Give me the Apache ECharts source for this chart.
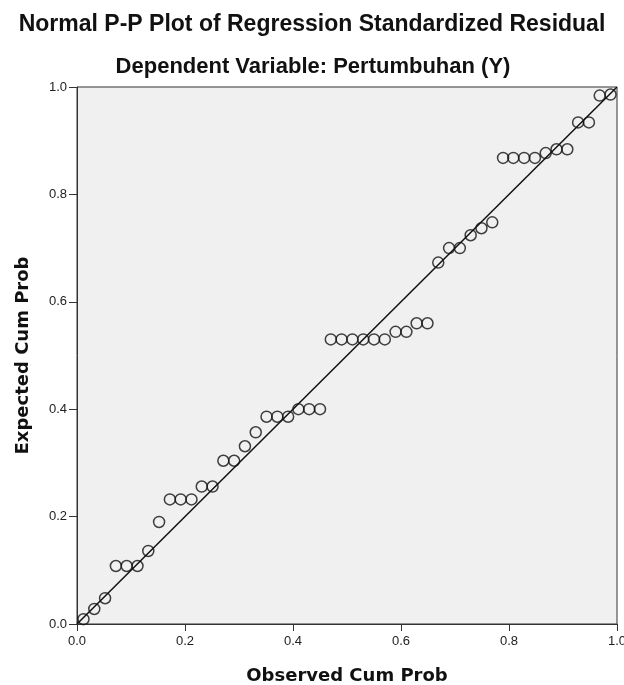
<!DOCTYPE html>
<html>
<head>
<meta charset="utf-8">
<script src="https://cdn.jsdelivr.net/npm/echarts@6/dist/echarts.min.js"></script>
<style>
  html, body { margin: 0; padding: 0; background: #fff; }
  #main { width: 624px; height: 685px; }
</style>
</head>
<body>
<div id="main"></div>
<script>
// observed cum prob (x) and expected cum prob (y)
const observed = [
  0.012, 0.032, 0.052, 0.072, 0.092, 0.112, 0.132, 0.152, 0.172, 0.192,
  0.212, 0.231, 0.251, 0.271, 0.291, 0.311, 0.331, 0.351, 0.371, 0.391,
  0.410, 0.430, 0.450, 0.470, 0.490, 0.510, 0.530, 0.550, 0.570, 0.590,
  0.610, 0.629, 0.649, 0.669, 0.689, 0.709, 0.729, 0.749, 0.769, 0.789,
  0.808, 0.828, 0.848, 0.868, 0.888, 0.908, 0.928, 0.948, 0.968, 0.988
];
const expected = [
  0.009, 0.028, 0.048, 0.108, 0.108, 0.108, 0.136, 0.190, 0.232, 0.232,
  0.232, 0.256, 0.256, 0.304, 0.304, 0.331, 0.357, 0.386, 0.386, 0.386,
  0.400, 0.400, 0.400, 0.530, 0.530, 0.530, 0.530, 0.530, 0.530, 0.544,
  0.544, 0.560, 0.560, 0.673, 0.700, 0.700, 0.724, 0.737, 0.748, 0.868,
  0.868, 0.868, 0.868, 0.877, 0.884, 0.884, 0.934, 0.934, 0.984, 0.986
];
const refLine = [[0, 0], [1, 1]];

let myChart = echarts.init(document.getElementById('main'));

const font = 'Liberation Sans, Arial, sans-serif';
const nameFont = 'DejaVu Sans, Verdana, sans-serif';

myChart.setOption({
  backgroundColor: '#fff',
  animation: false,
  title: [
    {
      text: 'Normal P-P Plot of Regression Standardized Residual',
      left: 307,
      top: 8,
      textAlign: 'center',
      textStyle: { fontFamily: font, fontSize: 23, fontWeight: 'bold', color: '#111' }
    },
    {
      text: 'Dependent Variable: Pertumbuhan (Y)',
      left: 308,
      top: 51,
      textAlign: 'center',
      textStyle: { fontFamily: font, fontSize: 22, fontWeight: 'bold', color: '#111' }
    }
  ],
  grid: {
    left: 77,
    top: 87,
    right: 7,
    bottom: 61,
    outerBoundsMode: 'none',
    show: true,
    backgroundColor: '#f0f0f0',
    borderColor: '#333',
    borderWidth: 1
  },
  xAxis: {
    type: 'value',
    min: 0,
    max: 1,
    interval: 0.2,
    name: 'Observed Cum Prob',
    nameLocation: 'middle',
    nameGap: 43,
    nameTextStyle: { fontFamily: nameFont, fontSize: 18, fontWeight: 'bold', color: '#111' },
    axisLine: { lineStyle: { color: '#333', width: 1 } },
    axisTick: { show: true, inside: false, length: 7, lineStyle: { color: '#333' } },
    axisLabel: {
      fontFamily: font, fontSize: 13, color: '#222', margin: 11,
      formatter: v => v.toFixed(1)
    },
    splitLine: { show: false }
  },
  yAxis: {
    type: 'value',
    min: 0,
    max: 1,
    interval: 0.2,
    name: 'Expected Cum Prob',
    nameLocation: 'middle',
    nameGap: 45,
    nameRotate: 90,
    nameTextStyle: { fontFamily: nameFont, fontSize: 18, fontWeight: 'bold', color: '#111' },
    axisLine: { lineStyle: { color: '#333', width: 1 } },
    axisTick: { show: true, inside: false, length: 8, lineStyle: { color: '#333' } },
    axisLabel: {
      fontFamily: font, fontSize: 13, color: '#222', margin: 10,
      formatter: v => v.toFixed(1)
    },
    splitLine: { show: false }
  },
  series: [
    {
      name: 'reference',
      type: 'line',
      data: refLine,
      symbol: 'none',
      lineStyle: { color: '#111', width: 1.5 },
      z: 2
    },
    {
      name: 'residual',
      type: 'scatter',
      data: observed.map((x, i) => [x, expected[i]]),
      symbol: 'circle',
      symbolSize: 11,
      itemStyle: { color: 'rgba(0,0,0,0)', borderColor: '#111', borderWidth: 1.5 },
      z: 3
    }
  ]
});
</script>
</body>
</html>
